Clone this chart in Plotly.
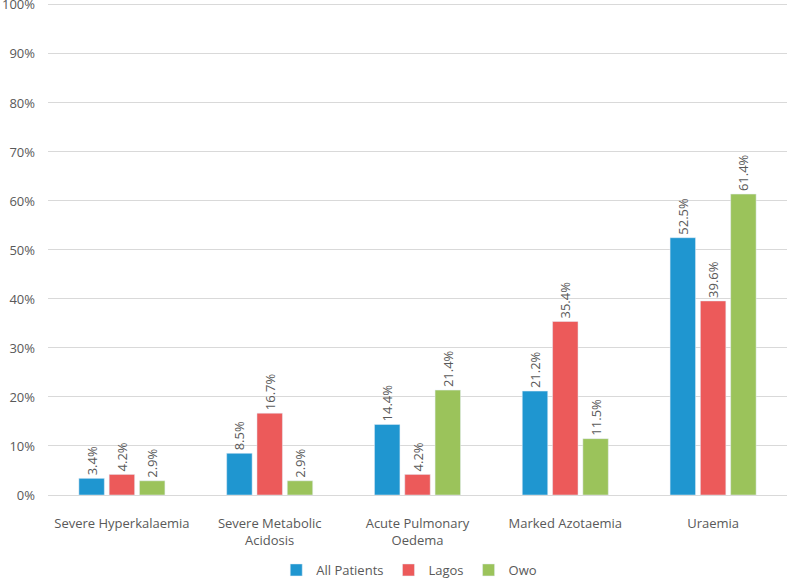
import plotly.graph_objects as go

categories = ["Severe Hyperkalaemia", "Severe Metabolic<br>Acidosis", "Acute Pulmonary<br>Oedema", "Marked Azotaemia", "Uraemia"]
all_patients = [3.4, 8.5, 14.4, 21.2, 52.5]
lagos = [4.2, 16.7, 4.2, 35.4, 39.6]
owo = [2.9, 2.9, 21.4, 11.5, 61.4]
y_ticks = list(range(0, 101, 10))

series = [("All Patients", all_patients, "#1f96d0"),
          ("Lagos", lagos, "#ec5a5a"),
          ("Owo", owo, "#9bc35b")]

fig = go.Figure()
for name, vals, col in series:
    fig.add_trace(go.Bar(
        x=categories, y=vals, name=name, marker_color=col,
        text=[f"{v:.1f}%" for v in vals], textposition="outside",
        textangle=-90, cliponaxis=False, constraintext="none",
        textfont=dict(size=13, color="#595959", family="Open Sans"),
    ))

fig.update_layout(
    width=787, height=578,
    margin=dict(l=48, r=0, t=1, b=83, autoexpand=False),
    paper_bgcolor="white", plot_bgcolor="white",
    barmode="group", bargap=0.385, bargroupgap=0.16,
    font=dict(family="Open Sans", size=13, color="#595959"),
    legend=dict(orientation="h", x=0.52, xanchor="center", xref="container",
                y=1 - 570 / 578, yanchor="middle", yref="container",
                itemwidth=30, font=dict(size=13, color="#595959"), traceorder="normal"),
    showlegend=True,
)
fig.update_yaxes(range=[0, 100.8], tickvals=y_ticks, ticktext=[f"{t}%" for t in y_ticks],
                 showgrid=True, automargin=False, ticklabeloverflow="allow",
                 gridcolor="#d9d9d9", gridwidth=1, zeroline=False,
                 showline=False, ticks="", ticklabelstandoff=12,
                 tickfont=dict(size=13, color="#595959"))
fig.update_xaxes(showline=True, linecolor="#d9d9d9", linewidth=1, ticks="",
                 automargin=False, ticklabelstandoff=16,
                 tickfont=dict(size=13, color="#595959"))

fig.write_html("out.html", config={"displayModeBar": False},
               post_script="document.body.style.margin='0';")
